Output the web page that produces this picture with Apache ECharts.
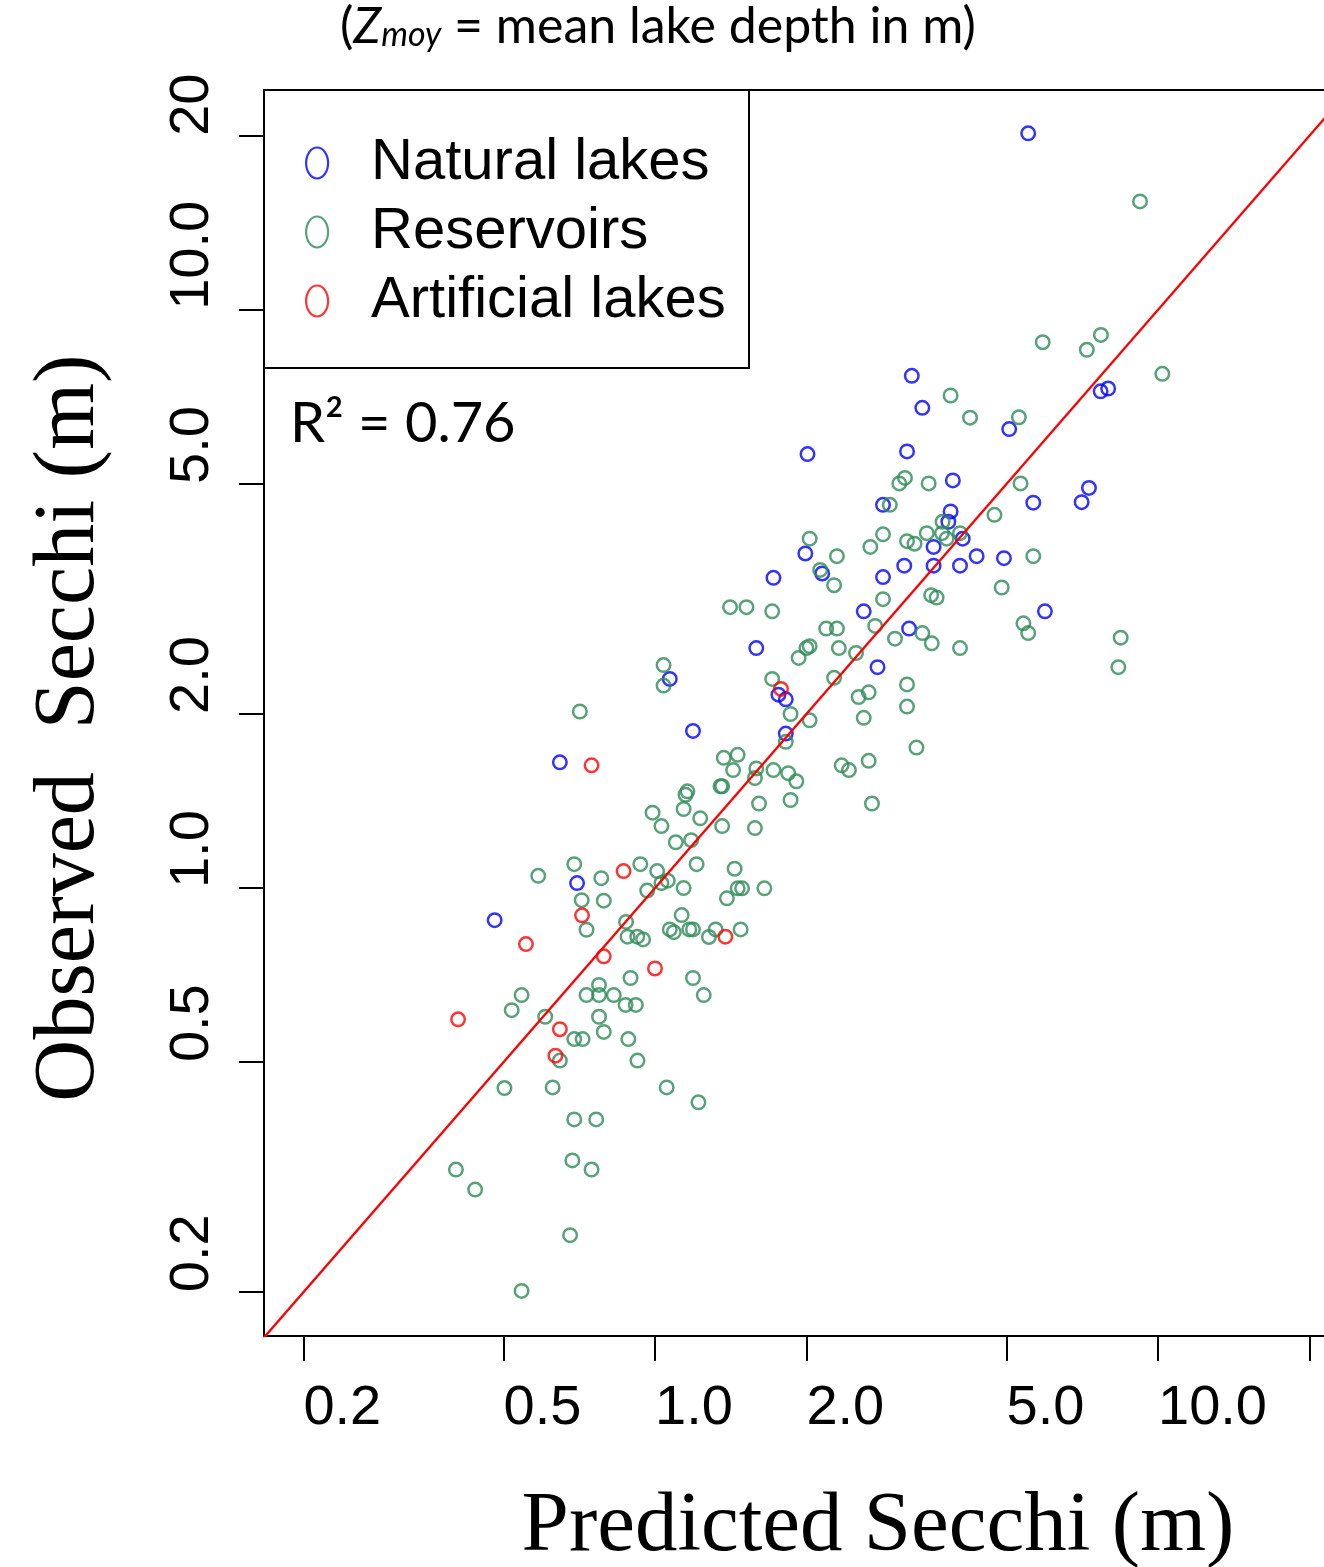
<!DOCTYPE html>
<html>
<head>
<meta charset="utf-8">
<script src="https://cdn.jsdelivr.net/npm/echarts@6/dist/echarts.min.js"></script>
<style>
html,body{margin:0;padding:0;background:#fff;}
#c{width:1324px;height:1567px;}
</style>
</head>
<body>
<div id="c"></div>
<script>
// [predicted, observed] Secchi depth (m)
const naturalLakes = [
[5.52,20.2],[3.24,7.69],[3.40,6.77],[5.06,6.22],[2.01,5.63],[3.17,5.69],[3.91,5.07],[5.65,4.64],
[2.84,4.60],[3.87,4.48],[3.83,4.30],[4.09,4.02],[3.58,3.89],[1.99,3.79],[4.36,3.75],[4.94,3.72],
[3.13,3.61],[3.58,3.61],[4.04,3.61],[2.15,3.50],[2.84,3.45],[1.72,3.44],[5.96,3.01],[2.60,3.01],
[3.20,2.81],[1.59,2.60],[2.77,2.41],[1.07,2.30],[1.76,2.16],[1.82,2.12],[1.19,1.87],[1.82,1.85],
[0.647,1.65],[0.700,1.02],[0.480,0.880],[7.69,7.23],[7.96,7.31],[7.29,4.92],[7.05,4.65]
];
const reservoirs = [
[9.21,15.4],[5.90,8.79],[7.22,8.53],[7.70,9.05],[10.2,7.75],[3.87,7.11],[4.23,6.51],[5.29,6.52],
[3.06,5.01],[3.14,5.12],[3.50,5.01],[5.33,5.01],[2.93,4.60],[4.73,4.42],[3.73,4.30],[2.03,4.02],
[2.84,4.09],[3.17,3.98],[3.28,3.94],[3.47,4.11],[3.72,4.11],[3.80,4.02],[4.04,4.11],[2.68,3.89],
[2.30,3.75],[5.65,3.75],[2.13,3.55],[2.27,3.34],[4.89,3.31],[2.84,3.16],[3.54,3.21],[3.63,3.18],
[1.41,3.06],[1.52,3.06],[1.71,3.01],[5.40,2.87],[5.52,2.76],[2.19,2.81],[2.30,2.81],[2.74,2.84],
[3.40,2.76],[3.55,2.65],[3.00,2.70],[4.04,2.60],[8.43,2.71],[8.34,2.41],[1.93,2.50],[2.00,2.60],
[2.03,2.62],[2.32,2.60],[2.51,2.55],[1.04,2.43],[1.04,2.24],[1.71,2.30],[2.27,2.31],[2.54,2.14],
[2.66,2.18],[3.17,2.25],[3.17,2.06],[1.86,2.00],[2.03,1.95],[2.60,1.97],[3.31,1.75],[1.82,1.79],
[1.37,1.68],[1.46,1.70],[1.43,1.60],[1.59,1.61],[1.58,1.55],[1.72,1.60],[1.84,1.58],[1.91,1.53],
[2.35,1.63],[2.43,1.60],[2.66,1.66],[0.709,2.02],[1.16,1.47],[1.15,1.45],[1.35,1.50],[1.36,1.50],
[1.14,1.37],[0.989,1.35],[1.23,1.32],[1.61,1.40],[1.86,1.42],[2.70,1.40],[1.03,1.28],[1.36,1.28],
[1.58,1.27],[1.10,1.20],[1.18,1.21],[0.691,1.10],[0.935,1.10],[1.21,1.10],[1.44,1.08],[0.586,1.05],
[0.782,1.04],[1.01,1.07],[1.03,1.02],[1.06,1.03],[0.965,0.990],[1.14,1.00],[1.39,0.960],[1.46,0.999],
[1.49,0.999],[1.65,0.999],[0.715,0.953],[0.791,0.951],[1.13,0.898],[0.876,0.874],[0.731,0.847],[1.07,0.848],
[1.09,0.839],[1.17,0.848],[1.19,0.848],[1.28,0.823],[1.32,0.848],[1.48,0.848],[0.882,0.824],[0.922,0.824],
[0.947,0.815],[0.894,0.699],[1.19,0.699],[1.25,0.653],[0.774,0.680],[0.731,0.653],[0.774,0.653],[0.828,0.653],
[0.874,0.628],[0.916,0.628],[0.543,0.653],[0.519,0.615],[0.605,0.599],[0.774,0.599],[0.791,0.564],[0.691,0.548],
[0.718,0.548],[0.885,0.548],[0.647,0.503],[0.923,0.503],[0.502,0.451],[0.626,0.452],[1.055,0.452],[1.22,0.426],
[0.691,0.398],[0.764,0.398],[0.685,0.338],[0.748,0.326],[0.402,0.326],[0.439,0.301],[0.678,0.251],[0.543,0.201]
];
const artificialLakes = [
[1.78,2.21],[0.748,1.63],[0.866,1.07],[0.716,0.897],[0.554,0.800],[0.791,0.762],
[1.00,0.726],[1.38,0.824],[0.406,0.593],[0.647,0.570],[0.634,0.513]
];
const seriesNames = ['Natural lakes','Reservoirs','Artificial lakes'];
const tickValues = [0.2, 0.5, 1, 2, 5, 10, 20];
const xTickLabels = ['0.2','0.5','1.0','2.0','5.0','10.0',''];
const yTickLabels = ['0.2','0.5','1.0','2.0','5.0','10.0','20'];
const xRange = [0.167, 23.43];
const yRange = [0.168, 24.0];
const oneToOne = [0.1, 30];
const rSquared = 'R² = 0.76';

const sans = "'Liberation Sans', Arial, Helvetica, sans-serif";
const serif = "'Liberation Serif', 'Times New Roman', serif";
const calib = "Lato, 'Open Sans', sans-serif";
const ellipseIcon = 'path://M0,0A9,12,0,1,1,0,24A9,12,0,1,1,0,0Z';

function fmt(labels) {
  return function (v) {
    for (let i = 0; i < tickValues.length; i++) {
      if (Math.abs(Math.log10(v / tickValues[i])) < 0.005) return labels[i];
    }
    return '';
  };
}

function scatter(name, data, color) {
  return {
    name: name, type: 'scatter', data: data,
    symbol: 'circle', symbolSize: 13.5,
    itemStyle: { color: 'transparent', borderColor: color, borderWidth: 2.5 },
    emphasis: { disabled: true }, silent: true
  };
}

const chart = echarts.init(document.getElementById('c'), null, { renderer: 'canvas', width: 1324, height: 1567 });
chart.setOption({
  animation: false,
  backgroundColor: '#fff',
  grid: { left: 264, top: 90, right: -20, bottom: 231, show: true, borderColor: '#000', borderWidth: 2,
          backgroundColor: 'transparent', containLabel: false, outerBoundsMode: 'none' },
  xAxis: {
    type: 'log', logBase: 10, min: xRange[0], max: xRange[1],
    axisLine: { show: false }, splitLine: { show: false }, minorTick: { show: false },
    axisTick: { show: true, customValues: tickValues, length: 25, lineStyle: { color: '#000', width: 2 } },
    axisLabel: { customValues: tickValues, formatter: fmt(xTickLabels), align: 'left', margin: 45,
                 fontSize: 56, fontFamily: sans, color: '#000' }
  },
  yAxis: {
    type: 'log', logBase: 10, min: yRange[0], max: yRange[1],
    axisLine: { show: false }, splitLine: { show: false }, minorTick: { show: false },
    axisTick: { show: true, customValues: tickValues, length: 25, lineStyle: { color: '#000', width: 2 } },
    axisLabel: { customValues: tickValues, formatter: fmt(yTickLabels), rotate: 90, align: 'left',
                 verticalAlign: 'bottom', margin: 43, fontSize: 56, fontFamily: sans, color: '#000' }
  },
  legend: {
    data: seriesNames, orient: 'vertical', left: 305, top: 134, padding: 0,
    icon: ellipseIcon, symbolKeepAspect: false,
    itemWidth: 22, itemHeight: 31, itemGap: 11, selectedMode: false,
    itemStyle: { borderWidth: 2.2 },
    textStyle: { fontSize: 58, fontFamily: sans, color: '#000', padding: [0, 0, 0, 38] }
  },
  series: [
    scatter(seriesNames[0], naturalLakes, '#0000ff'),
    scatter(seriesNames[1], reservoirs, '#2e8b57'),
    scatter(seriesNames[2], artificialLakes, '#ff0000'),
    {
      name: '1:1', type: 'line', data: oneToOne.map(v => [v, v]), symbol: 'none',
      lineStyle: { color: '#ff0000', width: 2.4 }, clip: true, silent: true, z: 5
    }
  ],
  graphic: [
    { type: 'rect', shape: { x: 264, y: 90, width: 485, height: 278 },
      style: { fill: 'none', stroke: '#000', lineWidth: 2 }, z: 100 },
    { type: 'text', x: 290, y: 424, z: 100,
      style: { text: rSquared, font: "56px " + calib, fill: '#000', textAlign: 'left', textVerticalAlign: 'middle' } },
    { type: 'text', x: 340, y: 2, z: 100,
      style: {
        text: '{n|(}{i|Z}{s|moy}{n| = mean lake depth in m)}',
        textAlign: 'left', textVerticalAlign: 'top', fill: '#000',
        rich: {
          n: { fontFamily: calib, fontSize: 50, lineHeight: 50, verticalAlign: 'top', fill: '#000' },
          i: { fontFamily: calib, fontSize: 50, lineHeight: 50, fontStyle: 'italic', verticalAlign: 'top', fill: '#000' },
          s: { fontFamily: calib, fontSize: 34, lineHeight: 34, fontStyle: 'italic', verticalAlign: 'bottom', padding: [26, 0, 0, 0], fill: '#000' }
        }
      } },
    { type: 'text', x: 878, y: 1528, z: 100,
      style: { text: 'Predicted Secchi (m)', font: "85px " + serif, fill: '#000', textAlign: 'center', textVerticalAlign: 'middle' } },
    { type: 'text', x: 70, y: 728, rotation: Math.PI / 2, z: 100,
      style: { text: 'Observed  Secchi (m)', font: "86px " + serif, fill: '#000', textAlign: 'center', textVerticalAlign: 'middle' } }
  ]
});
</script>
</body>
</html>
